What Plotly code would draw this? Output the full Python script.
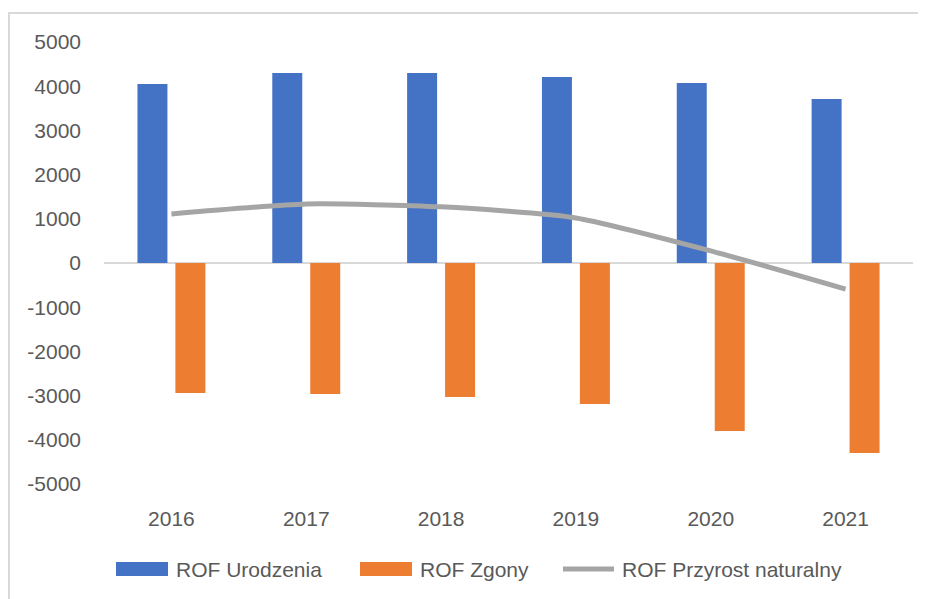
import plotly.graph_objects as go

years = ["2016", "2017", "2018", "2019", "2020", "2021"]
urodzenia = [4050, 4300, 4300, 4210, 4075, 3710]
zgony = [-2940, -2965, -3030, -3190, -3800, -4300]
przyrost = [1110, 1335, 1270, 1020, 275, -590]

ytick_vals = [5000, 4000, 3000, 2000, 1000, 0, -1000, -2000, -3000, -4000, -5000]
ytick_text = ["5000", "4000", "3000", "2000", "1000", "0", "-1000", "-2000", "-3000", "-4000", "-5000"]

names = ["ROF Urodzenia", "ROF Zgony", "ROF Przyrost naturalny"]
colors = ["#4472C4", "#ED7D31", "#A5A5A5"]

FONT = "Liberation Sans, Arial, sans-serif"
TXT = "#595959"

fig = go.Figure()
fig.add_trace(go.Bar(x=years, y=urodzenia, name=names[0],
                     marker=dict(color=colors[0], line=dict(width=0))))
fig.add_trace(go.Bar(x=years, y=zgony, name=names[1],
                     marker=dict(color=colors[1], line=dict(width=0))))
fig.add_trace(go.Scatter(x=years, y=przyrost, name=names[2],
                         mode="lines", line=dict(color=colors[2], width=5, shape="spline", smoothing=0.6)))

# figure pixel geometry (page has an 8px body margin, so fit inside the viewport)
FW, FH = 918, 591
L, R, T, B = 96, 13, 34, 115
W = FW - L - R
H = FH - T - B

def px(x):
    return (x - L) / W

def py(y):
    return (FH - B - y) / H

shapes = [dict(type="rect", xref="paper", yref="paper",
               x0=px(1), x1=px(960), y0=py(640), y1=py(5),
               line=dict(color="#D9D9D9", width=2), fillcolor="rgba(0,0,0,0)", layer="below")]

# custom legend
leg_y = 561
shapes.append(dict(type="rect", xref="paper", yref="paper",
                   x0=px(108), x1=px(160), y0=py(leg_y + 7), y1=py(leg_y - 7),
                   line=dict(width=0), fillcolor=colors[0]))
shapes.append(dict(type="rect", xref="paper", yref="paper",
                   x0=px(352), x1=px(404), y0=py(leg_y + 7), y1=py(leg_y - 7),
                   line=dict(width=0), fillcolor=colors[1]))
shapes.append(dict(type="line", xref="paper", yref="paper",
                   x0=px(555), x1=px(606), y0=py(leg_y), y1=py(leg_y),
                   line=dict(color=colors[2], width=5)))
annotations = []
for name, xs in zip(names, [166, 410, 612]):
    annotations.append(dict(text=name, xref="paper", yref="paper", x=px(xs), y=py(leg_y),
                            xanchor="left", yanchor="middle", showarrow=False,
                            font=dict(family=FONT, size=21, color=TXT)))

fig.update_layout(
    width=FW, height=FH,
    margin=dict(l=L, r=R, t=T, b=B, pad=0),
    paper_bgcolor="white", plot_bgcolor="white",
    font=dict(family=FONT, size=21, color=TXT),
    barmode="group", bargap=0.437, bargroupgap=0.21,
    showlegend=False,
    xaxis=dict(showgrid=False, showline=False, zeroline=False, ticks="",
               tickfont=dict(family=FONT, size=21, color=TXT), ticklabelstandoff=20,
               fixedrange=True),
    yaxis=dict(range=[-5000, 5000], tickvals=ytick_vals, ticktext=ytick_text,
               showgrid=False, showline=False, zeroline=True, zerolinecolor="#D9D9D9",
               zerolinewidth=2, ticks="", ticklabelstandoff=22,
               tickfont=dict(family=FONT, size=21, color=TXT), fixedrange=True),
    shapes=shapes,
    annotations=annotations,
)

fig.write_html("out.html")
